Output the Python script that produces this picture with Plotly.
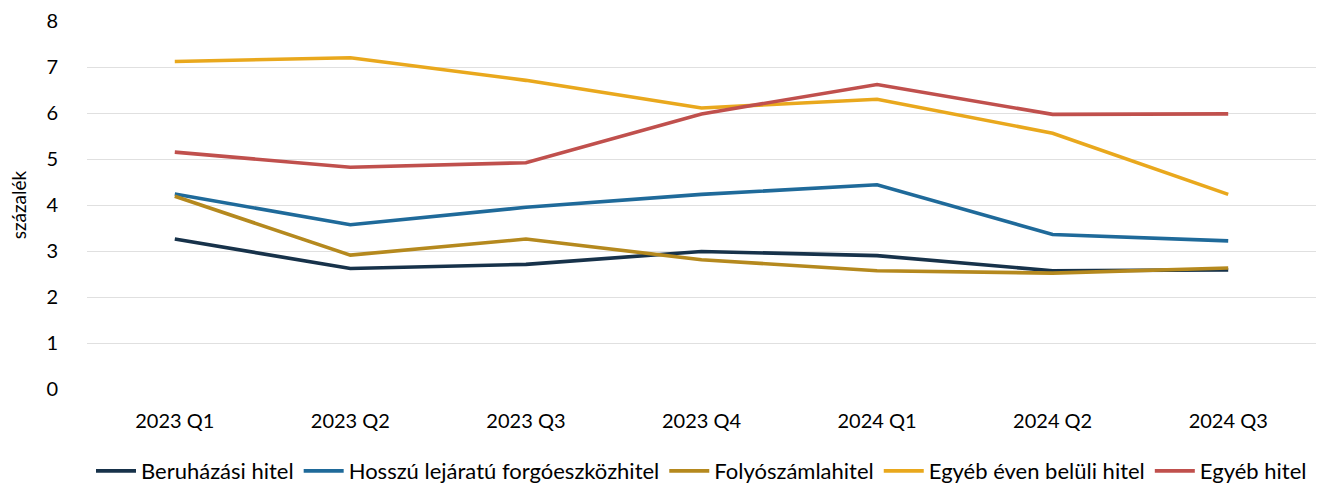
import plotly.graph_objects as go

quarters = ["2023 Q1", "2023 Q2", "2023 Q3", "2023 Q4", "2024 Q1", "2024 Q2", "2024 Q3"]

beruhazasi = [3.26, 2.62, 2.71, 2.99, 2.90, 2.57, 2.59]
hosszu_forgo = [4.24, 3.57, 3.95, 4.23, 4.44, 3.36, 3.22]
folyoszamla = [4.19, 2.91, 3.26, 2.81, 2.57, 2.52, 2.63]
egyeb_even_belul = [7.12, 7.20, 6.71, 6.11, 6.30, 5.56, 4.23]
egyeb = [5.15, 4.82, 4.92, 5.98, 6.62, 5.97, 5.98]

series = [
    ("Beruházási hitel", beruhazasi, "#17324A"),
    ("Hosszú lejáratú forgóeszközhitel", hosszu_forgo, "#1F6A9A"),
    ("Folyószámlahitel", folyoszamla, "#B5891E"),
    ("Egyéb éven belüli hitel", egyeb_even_belul, "#E9A81D"),
    ("Egyéb hitel", egyeb, "#C0504D"),
]

fig = go.Figure()
for name, vals, color in series:
    fig.add_trace(go.Scatter(
        x=quarters, y=vals, name=name, mode="lines",
        line=dict(color=color, width=3.6),
    ))

font_family = "Lato, 'Open Sans', sans-serif"
fig.update_layout(
    width=1341, height=488,
    margin=dict(l=87, r=25, t=21, b=99, autoexpand=False),
    plot_bgcolor="white", paper_bgcolor="white",
    font=dict(family=font_family, size=20, color="#000000"),
    showlegend=True,
    legend=dict(
        orientation="h", x=0.5, xanchor="center", y=-0.223, yanchor="middle",
        font=dict(size=22), itemwidth=40, tracegroupgap=0,
    ),
    xaxis=dict(
        range=[-0.5, 6.5],
        showgrid=False, showline=False, ticks="",
        tickfont=dict(size=20), ticklabelstandoff=18,
    ),
    yaxis=dict(
        range=[0, 8], dtick=1, showgrid=True, gridcolor="#E0E0E0", gridwidth=1,
        zeroline=False, showline=False, ticks="", tickfont=dict(size=20),
        ticklabelstandoff=28,
        title=dict(text="százalék", font=dict(size=19), standoff=14),
    ),
)

fig.write_html("out.html")
